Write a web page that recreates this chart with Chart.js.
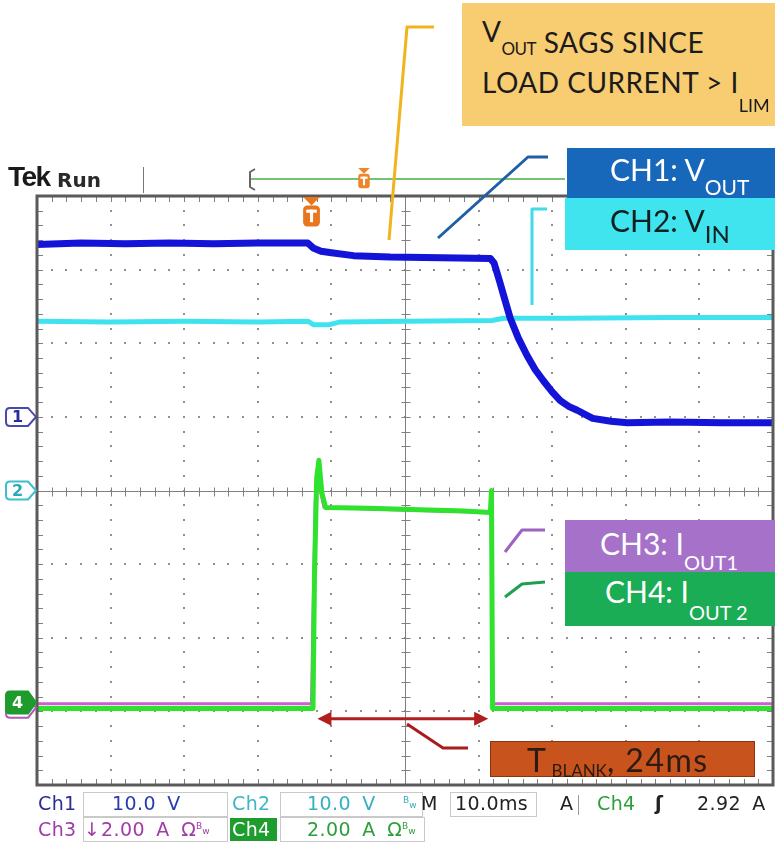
<!DOCTYPE html>
<html>
<head>
<meta charset="utf-8">
<title>Tek scope capture</title>
<script src="https://cdn.jsdelivr.net/npm/chart.js@4.4.1/dist/chart.umd.min.js"></script>
<style>
  html, body { margin: 0; padding: 0; background: #fff; overflow: hidden; }
  #wrap { position: relative; width: 775px; height: 843px; }
  #scope { position: absolute; left: 0; top: 0; }
  .fill { position: absolute; box-sizing: border-box; }
  .t { position: absolute; white-space: nowrap; line-height: 1; }
  .lab { font-family: Lato, 'Open Sans', sans-serif; }
  .st { font-family: 'DejaVu Sans', sans-serif; font-size: 19px; letter-spacing: 0.4px; word-spacing: 5px; }
  .sub { position: relative; }
  .cell { position: absolute; background: #fff; border: 1px solid #c9c9c9; box-sizing: border-box; }
  .bw { font-size: 9px; position: relative; top: -7px; letter-spacing: 0; }
  .tagnum { position: absolute; width: 21px; height: 18px; line-height: 18px; text-align: center;
            font-family: 'DejaVu Sans', sans-serif; font-weight: bold; font-size: 16px; }
</style>
</head>
<body>
<div id="wrap">
  <canvas id="scope" width="775" height="843"></canvas>

  <!-- callout boxes -->
  <div class="fill" style="left:462px;top:3px;width:313px;height:123px;background:#f8cd72"></div>
  <div class="fill" style="left:567px;top:148px;width:208px;height:50px;background:#1767ba"></div>
  <div class="fill" style="left:565px;top:198px;width:210px;height:52px;background:#40e4ee"></div>
  <div class="fill" style="left:565px;top:520px;width:210px;height:52px;background:#a571c9"></div>
  <div class="fill" style="left:565px;top:572px;width:210px;height:54px;background:#1bad55"></div>
  <div class="fill" style="left:490px;top:741px;width:265px;height:36px;background:#c9531d;border:1px solid #8c3412"></div>

  <div class="t lab" style="left:482px;top:28px;font-size:28px;letter-spacing:0.5px;color:#1b1b1b">
    <span class="sub" style="top:-11px">V</span><span class="sub" style="font-size:17px;top:2px;letter-spacing:-0.5px">OUT</span> SAGS SINCE</div>
  <div class="t lab" style="left:482px;top:68px;font-size:28px;letter-spacing:0.5px;color:#1b1b1b">
    LOAD CURRENT &gt; I<span class="sub" style="font-size:18px;top:19px;letter-spacing:0">LIM</span></div>

  <div class="t lab" style="left:610px;top:154px;font-size:30px;color:#fff">CH1: V<span class="sub" style="font-size:21px;top:14px">OUT</span></div>
  <div class="t lab" style="left:610px;top:205px;font-size:30px;color:#10201f">CH2: V<span class="sub" style="font-size:24px;top:11px">IN</span></div>
  <div class="t lab" style="left:600px;top:528px;font-size:30px;color:#fff">CH3: I<span class="sub" style="font-size:20px;top:15px">OUT1</span></div>
  <div class="t lab" style="left:605px;top:576px;font-size:30px;color:#fff">CH4: I<span class="sub" style="font-size:20px;top:17px">OUT 2</span></div>
  <div class="t lab" style="left:527px;top:744px;font-size:32px;letter-spacing:1.5px;color:#2b1b12">T<span class="sub" style="font-size:17px;top:5px;letter-spacing:0;margin-left:4px">BLANK</span>, 24ms</div>

  <!-- scope header -->
  <div class="t" style="left:8px;top:163px;font-family:'Liberation Sans',sans-serif;font-weight:bold;font-size:28px;letter-spacing:-1.5px;color:#1a1a1a">Tek</div>
  <div class="t" style="left:57px;top:170px;font-family:'DejaVu Sans',sans-serif;font-weight:bold;font-size:20px;color:#2a2a2a">Run</div>

  <!-- status bar -->
  <div class="cell" style="left:83px;top:792px;width:145px;height:25px"></div>
  <div class="cell" style="left:280px;top:792px;width:143px;height:25px"></div>
  <div class="cell" style="left:450px;top:792px;width:87px;height:25px"></div>
  <div class="cell" style="left:83px;top:817px;width:145px;height:25px"></div>
  <div class="fill" style="left:230px;top:818px;width:47px;height:23px;background:#1f9c2e"></div>
  <div class="cell" style="left:280px;top:817px;width:145px;height:25px"></div>
  <div class="fill" style="left:578px;top:795px;width:1px;height:20px;background:#999"></div>

  <div class="t st" style="left:38px;top:794px;color:#2c2c96">Ch1</div>
  <div class="t st" style="left:112px;top:794px;color:#2a3ab0">10.0 V</div>
  <div class="t st" style="left:232px;top:794px;color:#3eb6c6">Ch2</div>
  <div class="t st" style="left:307px;top:794px;color:#35b0c0">10.0 V</div>
  <div class="t st" style="left:403px;top:794px;color:#35b0c0"><span class="bw">B</span><span class="bw" style="top:-2px">w</span></div>
  <div class="t st" style="left:421px;top:794px;color:#222">M</div>
  <div class="t st" style="left:455px;top:794px;color:#222">10.0ms</div>
  <div class="t st" style="left:560px;top:794px;color:#222">A</div>
  <div class="t st" style="left:597px;top:794px;color:#2d9e3a">Ch4</div>
  <div class="t st" style="left:655px;top:794px;color:#222;font-weight:bold">ʃ</div>
  <div class="t st" style="left:697px;top:794px;color:#222">2.92 A</div>

  <div class="t st" style="left:38px;top:820px;color:#a03ca6">Ch3</div>
  <div class="t st" style="left:84px;top:820px;color:#a03ca6">↓</div>
  <div class="t st" style="left:101px;top:820px;color:#a03ca6">2.00 A Ω<span class="bw">B</span><span class="bw" style="top:-2px">w</span></div>
  <div class="t st" style="left:232px;top:820px;color:#fff">Ch4</div>
  <div class="t st" style="left:307px;top:820px;color:#2d9e3a">2.00 A Ω<span class="bw">B</span><span class="bw" style="top:-2px">w</span></div>
</div>

<script>
// time in ms from the left edge of the screen (10 ms/div)
const vout_t = [0, 6, 12, 18, 24, 30, 36.8, 37.6, 38.6, 40, 43, 48, 55, 61.6, 62.1, 62.8, 63.6, 64.3, 65.4, 66.6, 67.7, 68.8, 70, 71.1, 72.3, 73.4, 75.5, 78, 80.2, 86, 93, 100];
const vout_v = [23.4, 23.6, 23.5, 23.6, 23.5, 23.6, 23.6, 22.9, 22.5, 22.3, 21.9, 21.7, 21.6, 21.5, 20.9, 18.6, 15.8, 13.4, 10.7, 8.3, 6.4, 4.9, 3.4, 2.2, 1.4, 0.9, -0.2, -0.6, -0.8, -0.7, -0.8, -0.8];

const vin_t = [0, 10, 20, 30, 36.8, 37.6, 39.6, 41.2, 50, 61.8, 63.4, 72, 86, 100];
const vin_v = [23.0, 22.9, 23.0, 22.9, 23.0, 22.5, 22.5, 22.9, 23.0, 23.1, 23.4, 23.4, 23.5, 23.5];

const iout1_t = [0, 15, 30, 37.3, 37.5, 37.8, 38.1, 38.5, 39.0, 45, 52, 58, 61.7, 61.9, 75, 90, 100];
const iout1_a = [0.11, 0.11, 0.11, 0.11, 2.5, 5.6, 6.5, 5.9, 5.44, 5.4, 5.36, 5.32, 5.3, 0.11, 0.11, 0.11, 0.11];

const iout2_t = [0, 15, 30, 37.5, 37.7, 38.0, 38.3, 38.7, 39.2, 45, 52, 58, 61.6, 61.75, 61.9, 75, 90, 100];
const iout2_a = [-0.16, -0.16, -0.16, -0.16, 3.4, 6.1, 6.58, 5.7, 5.3, 5.28, 5.24, 5.2, 5.16, 5.76, -0.16, -0.16, -0.16, -0.16];

const trig_t = 37.3;          // trigger point, ms
const tblank = [37.5, 61.8];  // blanking window, ms

// channel ground offsets (divisions from centre) and volts/amps per division
const CH = {
  ch1: { ground: 1.0, perDiv: 10 },
  ch2: { ground: 0, perDiv: 10 },
  ch3: { ground: -2.95, perDiv: 2 },
  ch4: { ground: -2.88, perDiv: 2 }
};

function toDiv(t, v, ch) {
  return t.map((x, i) => ({ x: x, y: ch.ground + v[i] / ch.perDiv }));
}

function tag(ctx, left, y0, half, stroke, fill) {
  ctx.beginPath();
  ctx.moveTo(left - 27, y0 - half);
  ctx.lineTo(left - 9, y0 - half);
  ctx.lineTo(left - 1, y0);
  ctx.lineTo(left - 9, y0 + half);
  ctx.lineTo(left - 27, y0 + half);
  ctx.quadraticCurveTo(left - 31, y0 + half, left - 31, y0 + half - 4);
  ctx.lineTo(left - 31, y0 - half + 4);
  ctx.quadraticCurveTo(left - 31, y0 - half, left - 27, y0 - half);
  ctx.closePath();
  ctx.fillStyle = fill;
  ctx.fill();
  ctx.lineWidth = 2;
  ctx.strokeStyle = stroke;
  ctx.stroke();
}

function poly(ctx, pts, color, w) {
  ctx.beginPath();
  ctx.moveTo(pts[0][0], pts[0][1]);
  for (let i = 1; i < pts.length; i++) ctx.lineTo(pts[i][0], pts[i][1]);
  ctx.strokeStyle = color;
  ctx.lineWidth = w;
  ctx.lineJoin = 'round';
  ctx.stroke();
}

function trigMark(ctx, cx, top, s, color) {
  ctx.fillStyle = color;
  ctx.beginPath();
  ctx.moveTo(cx - 8 * s, top);
  ctx.lineTo(cx + 8 * s, top);
  ctx.lineTo(cx, top + 8 * s);
  ctx.closePath();
  ctx.fill();
  ctx.beginPath();
  ctx.roundRect(cx - 8 * s, top + 8 * s, 16 * s, 20 * s, 4 * s);
  ctx.fill();
  ctx.fillStyle = '#fff';
  ctx.fillRect(cx - 5 * s, top + 12 * s, 10 * s, 3 * s);
  ctx.fillRect(cx - 1.5 * s, top + 12 * s, 3 * s, 12 * s);
}

const scopePlugin = {
  id: 'scope',
  beforeDatasetsDraw(chart) {
    const ctx = chart.ctx, a = chart.chartArea;
    const x = chart.scales.x, y = chart.scales.y;
    ctx.save();
    // dotted graticule
    ctx.fillStyle = '#909090';
    for (let i = 1; i < 10; i++) {
      if (i === 5) continue;
      const px = Math.round(x.getPixelForValue(i * 10));
      for (let j = 1; j < 40; j++) {
        const py = Math.round(y.getPixelForValue(-4 + j * 0.2));
        ctx.fillRect(px - 1, py - 1, 2, 2);
      }
    }
    for (let k = -3; k <= 3; k++) {
      if (k === 0) continue;
      const py = Math.round(y.getPixelForValue(k));
      for (let j = 1; j < 50; j++) {
        const px = Math.round(x.getPixelForValue(j * 2));
        ctx.fillRect(px - 1, py - 1, 2, 2);
      }
    }
    // centre cross with minor ticks, plus edge ticks
    const cx = Math.round(x.getPixelForValue(50)) + 0.5;
    const cy = Math.round(y.getPixelForValue(0)) + 0.5;
    ctx.strokeStyle = '#808080';
    ctx.lineWidth = 1;
    ctx.beginPath();
    ctx.moveTo(a.left, cy); ctx.lineTo(a.right, cy);
    ctx.moveTo(cx, a.top); ctx.lineTo(cx, a.bottom);
    for (let j = 1; j < 50; j++) {
      const px = Math.round(x.getPixelForValue(j * 2)) + 0.5;
      ctx.moveTo(px, cy - 4); ctx.lineTo(px, cy + 5);
      ctx.moveTo(px, a.top); ctx.lineTo(px, a.top + 6);
      ctx.moveTo(px, a.bottom); ctx.lineTo(px, a.bottom - 6);
    }
    for (let j = 1; j < 40; j++) {
      const py = Math.round(y.getPixelForValue(-4 + j * 0.2)) + 0.5;
      ctx.moveTo(cx - 4, py); ctx.lineTo(cx + 5, py);
      ctx.moveTo(a.left, py); ctx.lineTo(a.left + 6, py);
      ctx.moveTo(a.right, py); ctx.lineTo(a.right - 6, py);
    }
    ctx.stroke();
    ctx.restore();
  },
  afterDatasetsDraw(chart) {
    const ctx = chart.ctx, a = chart.chartArea;
    const x = chart.scales.x, y = chart.scales.y;
    ctx.save();
    // frame
    ctx.strokeStyle = '#5a5a5a';
    ctx.lineWidth = 3;
    ctx.strokeRect(a.left, a.top, a.right - a.left, a.bottom - a.top);

    // channel ground tags
    tag(ctx, a.left, y.getPixelForValue(CH.ch3.ground), 10, '#b05ab8', '#fff');
    tag(ctx, a.left, y.getPixelForValue(CH.ch4.ground), 11, '#1f9a2c', '#1f9a2c');
    tag(ctx, a.left, y.getPixelForValue(CH.ch1.ground), 9, '#4848b0', '#fff');
    tag(ctx, a.left, y.getPixelForValue(CH.ch2.ground), 9, '#3cc0cc', '#fff');

    // trigger marker
    trigMark(ctx, x.getPixelForValue(trig_t), a.top + 1, 1.05, '#e8761e');

    // record bar in header
    poly(ctx, [[250, 179], [565, 179]], '#72c472', 2);
    poly(ctx, [[255, 169], [250, 172], [250, 187], [255, 190]], '#666', 2);
    poly(ctx, [[143.5, 167], [143.5, 193]], '#777', 1);
    trigMark(ctx, 364, 168, 0.72, '#f0842c');

    // blanking-time double arrow
    const ay = y.getPixelForValue(-3.1);
    const x0 = x.getPixelForValue(tblank[0] + 0.6), x1 = x.getPixelForValue(tblank[1] - 0.5);
    poly(ctx, [[x0 + 8, ay], [x1 - 8, ay]], '#b01e1e', 3);
    ctx.fillStyle = '#b01e1e';
    ctx.beginPath();
    ctx.moveTo(x0, ay); ctx.lineTo(x0 + 14, ay - 7); ctx.lineTo(x0 + 14, ay + 7); ctx.closePath();
    ctx.moveTo(x1, ay); ctx.lineTo(x1 - 14, ay - 7); ctx.lineTo(x1 - 14, ay + 7); ctx.closePath();
    ctx.fill();

    // callout leaders
    poly(ctx, [[434, 27], [407, 27], [389, 240]], '#f2b41c', 3);
    poly(ctx, [[438, 238], [528, 157], [548, 157]], '#1f5fa5', 3);
    poly(ctx, [[547, 209], [532, 209], [532, 305]], '#3fdce6', 3);
    poly(ctx, [[505, 552], [522, 530], [545, 530]], '#9c63c0', 3);
    poly(ctx, [[505, 597], [522, 584], [545, 582]], '#1ea050', 3);
    poly(ctx, [[407, 724], [443, 748], [468, 748]], '#a81c1c', 3);
    ctx.restore();
  }
};

const chart = new Chart(document.getElementById('scope'), {
  type: 'line',
  data: {
    datasets: [
      { label: 'CH1 VOUT', data: toDiv(vout_t, vout_v, CH.ch1), borderColor: '#1414d8', borderWidth: 7, order: 0 },
      { label: 'CH2 VIN', data: toDiv(vin_t, vin_v, CH.ch2), borderColor: '#3fe3ef', borderWidth: 5, order: 1 },
      { label: 'CH4 IOUT2', data: toDiv(iout2_t, iout2_a, CH.ch4), borderColor: '#2ee22e', borderWidth: 5, order: 2 },
      { label: 'CH3 IOUT1', data: toDiv(iout1_t, iout1_a, CH.ch3), borderColor: '#cc5fd0', borderWidth: 3, order: 3 }
    ]
  },
  options: {
    responsive: false,
    animation: false,
    layout: { padding: { left: 37, right: 2, top: 196, bottom: 58 } },
    elements: {
      point: { radius: 0 },
      line: { tension: 0, borderJoinStyle: 'round', borderCapStyle: 'round' }
    },
    plugins: {
      legend: { display: false },
      tooltip: { enabled: false }
    },
    scales: {
      x: { type: 'linear', min: 0, max: 100, display: false },
      y: { type: 'linear', min: -4, max: 4, display: false }
    }
  },
  plugins: [scopePlugin]
});

// channel numbers inside the ground tags
const wrap = document.getElementById('wrap');
[['1', CH.ch1.ground, '#2b2b9c'], ['2', CH.ch2.ground, '#2aa8b8'], ['4', CH.ch4.ground, '#fff']].forEach(function (c) {
  const s = document.createElement('div');
  s.className = 'tagnum';
  s.textContent = c[0];
  s.style.color = c[2];
  s.style.left = (chart.chartArea.left - 30) + 'px';
  s.style.top = (chart.scales.y.getPixelForValue(c[1]) - 9) + 'px';
  wrap.appendChild(s);
});
</script>
</body>
</html>
